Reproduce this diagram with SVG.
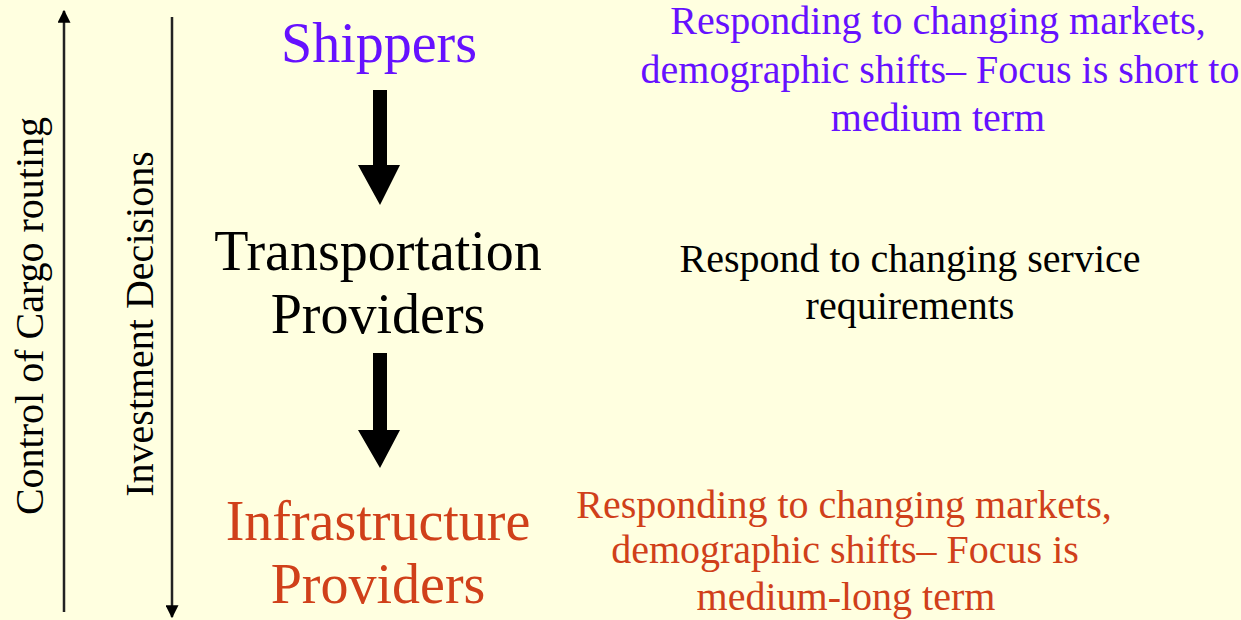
<svg xmlns="http://www.w3.org/2000/svg" width="1241" height="620" viewBox="0 0 1241 620">
<defs>
<style>
text{text-anchor:middle}
.big{font-size:56px}
.side{font-size:40px}
.desc{font-size:40px}
.purple{fill:#6611FF}
.red{fill:#D0401A}
.black{fill:#000}
.thin{stroke:#222;stroke-width:2.5;fill:none}
</style>
<marker id="thinHead" viewBox="0 0 10 10" refX="9" refY="5" markerWidth="13" markerHeight="13" markerUnits="userSpaceOnUse" orient="auto">
<path d="M0,0 L10,5 L0,10 Z" fill="#000"/>
</marker>
</defs>
<rect width="1241" height="620" fill="#FFFFE0"/>
<g id="connectors">
<line class="thin" x1="64" y1="612" x2="64" y2="11" marker-end="url(#thinHead)"/>
<line class="thin" x1="172" y1="17" x2="172" y2="617" marker-end="url(#thinHead)"/>
<polygon points="373,90 387,90 387,165 400,165 380,205 358,165 373,165" fill="#000"/>
<polygon points="373,353 387,353 387,430 400,430 380,468 358,430 373,430" fill="#000"/>
</g>
<g font-family="Liberation Serif, DejaVu Serif, serif">
<g id="label-control"><text class="side black" transform="translate(43,316) rotate(-90)">Control of Cargo routing</text></g>
<g id="label-investment"><text class="side black" transform="translate(153,324) rotate(-90)">Investment Decisions</text></g>
<g id="shippers"><text class="big purple" x="379" y="62">Shippers</text></g>
<g id="transportation"><text class="big black" x="378" y="270">Transportation</text><text class="big black" x="378" y="333">Providers</text></g>
<g id="infrastructure"><text class="big red" x="378" y="540">Infrastructure</text><text class="big red" x="378" y="603">Providers</text></g>
<g id="desc-shippers"><text class="desc purple" x="938" y="34">Responding to changing markets,</text><text class="desc purple" x="940" y="83">demographic shifts– Focus is short to</text><text class="desc purple" x="938" y="131">medium term</text></g>
<g id="desc-transport"><text class="desc black" x="910" y="272">Respond to changing service</text><text class="desc black" x="910" y="319">requirements</text></g>
<g id="desc-infra"><text class="desc red" x="844" y="518">Responding to changing markets,</text><text class="desc red" x="845" y="563">demographic shifts– Focus is</text><text class="desc red" x="846" y="610">medium-long term</text></g>
</g>
</svg>
